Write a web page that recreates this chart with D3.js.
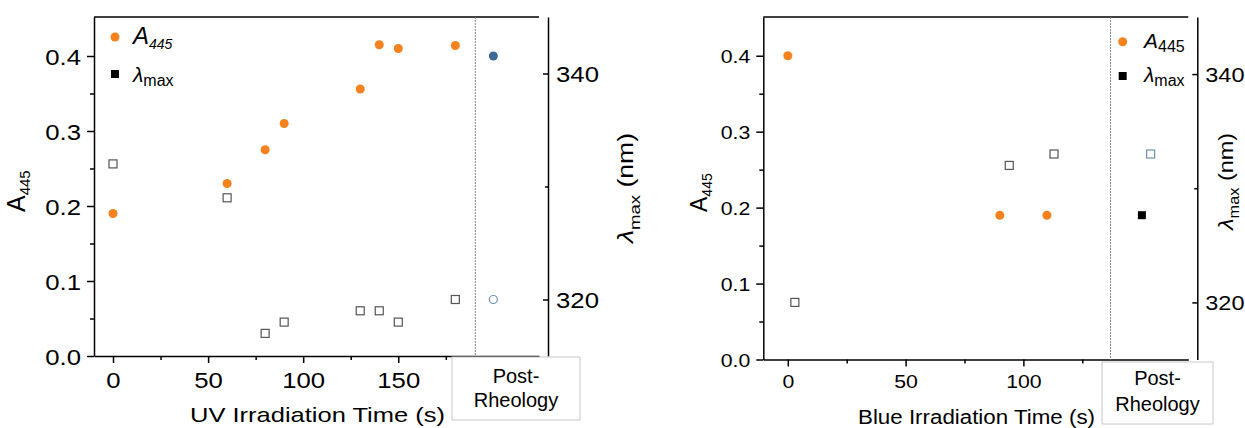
<!DOCTYPE html>
<html>
<head>
<meta charset="utf-8">
<script src="https://cdn.jsdelivr.net/npm/d3@7"></script>
<style>
  body { margin: 0; background: #fff; }
  svg { display: block; font-family: 'Liberation Sans', Arial, sans-serif; }
</style>
</head>
<body>
<div id="chart-area"></div>
<script>
const WIDTH = 1245;
const HEIGHT = 428;
const ORANGE = '#f5821f';
const BLUE = '#3d6898';
const LIGHT_BLUE = '#7090b5';
const STRETCH = 1.12;

// UV panel
const UV_TIME = [0, 60, 80, 90, 130, 140, 150, 180];
const UV_A445 = [0.19, 0.23, 0.275, 0.31, 0.356, 0.415, 0.41, 0.414];
const UV_LAMBDA = [332, 329, 317, 318, 319, 319, 318, 320];
const UV_POST_A445 = [0.40];
const UV_POST_LAMBDA = [320];

// Blue panel
const BLUE_TIME_A = [0, 90, 110];
const BLUE_A445 = [0.40, 0.19, 0.19];
const BLUE_TIME_L = [3, 94, 113];
const BLUE_LAMBDA = [320, 332, 333];
const BLUE_POST_A445 = [0.19];
const BLUE_POST_LAMBDA = [333];

// ticks
const A_TICKS = [0, 0.1, 0.2, 0.3, 0.4];
const A_MINOR = [0.05, 0.15, 0.25, 0.35];
const UV_TIME_TICKS = [0, 50, 100, 150];
const UV_TIME_MINOR = [25, 75, 125, 175];
const BLUE_TIME_TICKS = [0, 50, 100];
const BLUE_TIME_MINOR = [25, 75, 125];
const LAMBDA_TICKS = [320, 340];
const LAMBDA_MINOR = [330];

main();

function main() {
  const svg = d3.select('#chart-area').append('svg')
    .attr('width', WIDTH)
    .attr('height', HEIGHT);

  drawPanel(svg, {
    left: 94, right: 539, top: 17, bottom: 356, axisR: 548,
    xDomain: [-10, 224], aDomain: [0, 0.452],
    divider: 190.5, postA: 200, postL: 200,
    xTicks: UV_TIME_TICKS, xMinor: UV_TIME_MINOR,
    tickFont: 23, rightTickFont: 23, leftGap: 13, bottomBase: 32,
    time: UV_TIME, a445: UV_A445, timeL: UV_TIME, lambda: UV_LAMBDA,
    postA445: UV_POST_A445, postLambda: UV_POST_LAMBDA,
    postAStyle: 'blueDot', postLStyle: 'blueRing',
    box: [452, 357, 580, 420], boxText: [383, 407],
    xTitle: 'UV Irradiation Time (s)', xTitleX: 190, xTitleBase: 421.5, xTitleFont: 21, xTitleLen: 255,
    aTitle: [25, 212, 25, 15],
    lTitle: [633, 243, 22, 110],
    legend: 'uv',
  });

  drawPanel(svg, {
    left: 763.3, right: 1188.3, top: 17, bottom: 359.5, axisR: 1197.3,
    xDomain: [-10.4, 170], aDomain: [0, 0.451],
    divider: 137, postA: 150.3, postL: 154,
    xTicks: BLUE_TIME_TICKS, xMinor: BLUE_TIME_MINOR,
    tickFont: 19, rightTickFont: 21, leftGap: 13, bottomBase: 29,
    time: BLUE_TIME_A, a445: BLUE_A445, timeL: BLUE_TIME_L, lambda: BLUE_LAMBDA,
    postA445: BLUE_POST_A445, postLambda: BLUE_POST_LAMBDA,
    postAStyle: 'blackSquare', postLStyle: 'blueSquare',
    box: [1102, 362, 1213, 424], boxText: [385, 411],
    xTitle: 'Blue Irradiation Time (s)', xTitleX: 858, xTitleBase: 424, xTitleFont: 19.5, xTitleLen: 237,
    aTitle: [707, 212, 23, 14],
    lTitle: [1233, 230, 21, 97],
    legend: 'blue',
  });
}

function styleTicks(axisG, size) {
  axisG.attr('font-family', null).attr('font-size', size);
  axisG.selectAll('.tick line').attr('stroke', '#000').attr('stroke-width', 1.5);
  axisG.selectAll('.tick text').attr('fill', '#000');
  axisG.select('.domain').attr('stroke', '#000').attr('stroke-width', 1.5);
}

function drawPanel(svg, p) {
  const x = d3.scaleLinear().domain(p.xDomain).range([p.left, p.right]);
  const yA = d3.scaleLinear().domain(p.aDomain).range([p.bottom, p.top]);
  const yL = d3.scaleLinear().domain([315, 345]).range([p.bottom, p.top]);
  const g = svg.append('g');

  // left axis
  g.append('g')
    .attr('transform', `translate(${p.left},0)`)
    .call(d3.axisLeft(yA).tickValues(A_MINOR).tickSize(4).tickFormat(''))
    .call(a => a.select('.domain').remove())
    .call(a => styleTicks(a, p.tickFont));
  const leftAxis = g.append('g')
    .attr('transform', `translate(${p.left},0)`)
    .call(d3.axisLeft(yA).tickValues(A_TICKS).tickSize(7).tickSizeOuter(0).tickFormat(d3.format('.1f')));
  styleTicks(leftAxis, p.tickFont);
  leftAxis.selectAll('.tick text')
    .attr('x', -p.leftGap / STRETCH)
    .attr('dy', '0.36em')
    .attr('transform', `scale(${STRETCH},1)`);

  // bottom axis
  g.append('g')
    .attr('transform', `translate(0,${p.bottom})`)
    .call(d3.axisBottom(x).tickValues(p.xMinor).tickSize(4).tickFormat(''))
    .call(a => a.select('.domain').remove())
    .call(a => styleTicks(a, p.tickFont));
  const bottomAxis = g.append('g')
    .attr('transform', `translate(0,${p.bottom})`)
    .call(d3.axisBottom(x).tickValues(p.xTicks).tickSize(7).tickSizeOuter(0));
  styleTicks(bottomAxis, p.tickFont);
  bottomAxis.selectAll('.tick text')
    .attr('y', p.bottomBase)
    .attr('dy', 0)
    .attr('transform', `scale(${STRETCH},1)`);

  // top frame line
  g.append('line')
    .attr('x1', p.left).attr('x2', p.right)
    .attr('y1', p.top).attr('y2', p.top)
    .attr('stroke', '#000').attr('stroke-width', 1.5);

  // right axis
  g.append('g')
    .attr('transform', `translate(${p.axisR},0)`)
    .call(d3.axisRight(yL).tickValues(LAMBDA_MINOR).tickSize(-3).tickFormat(''))
    .call(a => a.select('.domain').remove())
    .call(a => styleTicks(a, p.rightTickFont));
  const rightAxis = g.append('g')
    .attr('transform', `translate(${p.axisR},0)`)
    .call(d3.axisRight(yL).tickValues(LAMBDA_TICKS).tickSize(-5).tickSizeOuter(0));
  styleTicks(rightAxis, p.rightTickFont);
  rightAxis.selectAll('.tick text')
    .attr('x', 8 / STRETCH)
    .attr('dy', '0.36em')
    .attr('transform', `scale(${STRETCH},1)`);

  // divider
  g.append('line')
    .attr('x1', x(p.divider)).attr('x2', x(p.divider))
    .attr('y1', p.top).attr('y2', p.bottom)
    .attr('stroke', '#888').attr('stroke-width', 1)
    .attr('stroke-dasharray', '2,1');

  // post-rheology box
  const [bx0, by0, bx1, by1] = p.box;
  g.append('rect')
    .attr('x', bx0).attr('y', by0)
    .attr('width', bx1 - bx0).attr('height', by1 - by0)
    .attr('fill', '#fff').attr('stroke', '#c8c8c8').attr('stroke-width', 1);
  const boxLabel = g.append('text')
    .attr('text-anchor', 'middle')
    .attr('font-size', 20)
    .attr('fill', '#000');
  boxLabel.append('tspan').attr('x', (bx0 + bx1) / 2).attr('y', p.boxText[0]).text('Post-');
  boxLabel.append('tspan').attr('x', (bx0 + bx1) / 2).attr('y', p.boxText[1]).text('Rheology');

  // lambda squares
  const S = 8;
  g.append('g').selectAll('rect')
    .data(p.lambda)
    .join('rect')
    .attr('x', (d, i) => x(p.timeL[i]) - S / 2)
    .attr('y', d => yL(d) - S / 2)
    .attr('width', S).attr('height', S)
    .attr('fill', '#fff').attr('stroke', '#555').attr('stroke-width', 1.2);

  // A445 dots
  g.append('g').selectAll('circle')
    .data(p.a445)
    .join('circle')
    .attr('cx', (d, i) => x(p.time[i]))
    .attr('cy', d => yA(d))
    .attr('r', 4.5)
    .attr('fill', ORANGE);

  // post-rheology points
  if (p.postAStyle === 'blueDot') {
    g.selectAll('.postA').data(p.postA445).join('circle')
      .attr('cx', x(p.postA)).attr('cy', d => yA(d))
      .attr('r', 4.5).attr('fill', BLUE);
  } else {
    g.selectAll('.postA').data(p.postA445).join('rect')
      .attr('x', x(p.postA) - S / 2).attr('y', d => yA(d) - S / 2)
      .attr('width', S).attr('height', S).attr('fill', '#000');
  }
  if (p.postLStyle === 'blueRing') {
    g.selectAll('.postL').data(p.postLambda).join('circle')
      .attr('cx', x(p.postL)).attr('cy', d => yL(d))
      .attr('r', 4).attr('fill', '#fff')
      .attr('stroke', LIGHT_BLUE).attr('stroke-width', 1.2);
  } else {
    g.selectAll('.postL').data(p.postLambda).join('rect')
      .attr('x', x(p.postL) - S / 2).attr('y', d => yL(d) - S / 2)
      .attr('width', S).attr('height', S)
      .attr('fill', '#fff').attr('stroke', LIGHT_BLUE).attr('stroke-width', 1.2);
  }

  // x title
  g.append('text')
    .attr('x', p.xTitleX).attr('y', p.xTitleBase)
    .attr('font-size', p.xTitleFont)
    .attr('textLength', p.xTitleLen)
    .attr('lengthAdjust', 'spacingAndGlyphs')
    .text(p.xTitle);

  // A445 title (rotated)
  const [ax, ay, aSize, aSub] = p.aTitle;
  const aT = g.append('text')
    .attr('transform', `translate(${ax},${ay}) rotate(-90)`);
  aT.append('tspan').attr('font-size', aSize).text('A');
  aT.append('tspan').attr('font-size', aSub).attr('dy', aSub * 0.35).text('445');

  // lambda title (rotated)
  const [lx, ly, lSize, lLen] = p.lTitle;
  const lT = g.append('text')
    .attr('transform', `translate(${lx},${ly}) rotate(-90)`)
    .attr('font-size', lSize)
    .attr('textLength', lLen)
    .attr('lengthAdjust', 'spacingAndGlyphs');
  lT.append('tspan').attr('font-style', 'italic').text('λ');
  lT.append('tspan').attr('font-size', lSize * 0.7).attr('dy', lSize * 0.3).text('max');
  lT.append('tspan').attr('dy', -lSize * 0.3).text(' (nm)');

  drawLegend(g, p.legend);
}

function drawLegend(g, kind) {
  const uv = kind === 'uv';
  const cx = uv ? 115 : 1122.7;
  const tx = uv ? 133 : 1144;
  const y1 = uv ? 37 : 41.7;
  const y2 = uv ? 74 : 76;
  g.append('circle').attr('cx', cx).attr('cy', y1).attr('r', 4.5).attr('fill', ORANGE);
  g.append('rect').attr('x', cx - 4).attr('y', y2 - 4).attr('width', 8).attr('height', 8).attr('fill', '#000');

  const t1 = g.append('text').attr('x', tx).attr('y', uv ? 43.5 : 47.5);
  t1.append('tspan').attr('font-style', 'italic').attr('font-size', uv ? 24 : 21).text('A');
  t1.append('tspan').attr('font-style', uv ? 'italic' : 'normal')
    .attr('font-size', uv ? 14 : 16).attr('dy', uv ? 5 : 4).text('445');

  const t2 = g.append('text').attr('x', tx).attr('y', 82);
  t2.append('tspan').attr('font-style', 'italic').attr('font-size', 21).text('λ');
  t2.append('tspan').attr('font-size', 16).attr('dy', 4).text('max');
}
</script>
</body>
</html>
